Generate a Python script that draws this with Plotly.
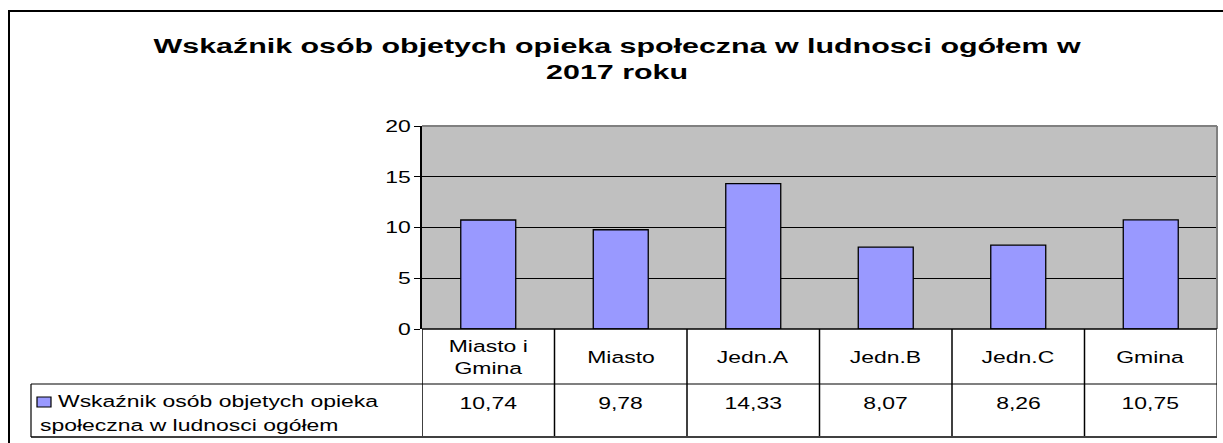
import plotly.graph_objects as go

categories = ["Miasto i<br>Gmina", "Miasto", "Jedn.A", "Jedn.B", "Jedn.C", "Gmina"]
values = [10.74, 9.78, 14.33, 8.07, 8.26, 10.75]
series_name_lines = ["Wskaźnik osób objetych opieka", "społeczna w ludnosci ogółem"]
title_lines = ["Wskaźnik osób objetych opieka społeczna w ludnosci ogółem w", "2017 roku"]
y_ticks = [0, 5, 10, 15, 20]

W, H = 1223, 443
FONT = "Liberation Sans, Arial, sans-serif"
BODY = 17
TITLE = 20


def px(x):
    return x / W


def py(y):
    return 1 - y / H


x_idx = list(range(len(categories)))

fig = go.Figure()
fig.add_trace(go.Bar(
    x=x_idx, y=values,
    marker=dict(color="#9999FF", line=dict(color="black", width=1.3)),
    showlegend=False, hoverinfo="skip",
))

plot_left, plot_right, plot_top, plot_bottom = 422, 1217, 126, 329
row_mid, table_bottom = 384, 437

fig.update_layout(
    template="none",
    width=W, height=H, autosize=False,
    margin=dict(l=0, r=0, t=0, b=0, pad=0, autoexpand=False),
    paper_bgcolor="white",
    plot_bgcolor="#C0C0C0",
    bargap=0.585,
    showlegend=False,
    xaxis=dict(
        domain=[px(plot_left), px(plot_right)],
        range=[-0.5, len(categories) - 0.5],
        showticklabels=False, showgrid=False, zeroline=False,
        showline=False, ticks="", automargin=False,
    ),
    yaxis=dict(
        domain=[py(plot_bottom), py(plot_top)],
        range=[0, 20], tickvals=y_ticks,
        ticktext=[str(v) for v in y_ticks],
        showgrid=True, gridcolor="#000000", gridwidth=1,
        zeroline=False, showline=True, linecolor="black", linewidth=1.5,
        ticks="outside", ticklen=6, tickcolor="black", tickwidth=1.2,
        tickfont=dict(family=FONT, size=BODY, color="black"),
        automargin=False,
    ),
    font=dict(family=FONT, color="black"),
)

shapes = []
# outer chart border
shapes.append(dict(type="rect", xref="paper", yref="paper",
                   x0=px(9), x1=px(1240), y0=py(460), y1=py(11),
                   line=dict(color="black", width=2), layer="below"))
# plot area top & right border (gray)
shapes.append(dict(type="line", xref="paper", yref="paper",
                   x0=px(plot_left), x1=px(plot_right), y0=py(plot_top), y1=py(plot_top),
                   line=dict(color="#808080", width=2)))
shapes.append(dict(type="line", xref="paper", yref="paper",
                   x0=px(plot_right), x1=px(plot_right), y0=py(plot_top), y1=py(plot_bottom),
                   line=dict(color="#808080", width=2)))
# x axis line at 0
shapes.append(dict(type="line", xref="paper", yref="paper",
                   x0=px(plot_left), x1=px(plot_right), y0=py(plot_bottom), y1=py(plot_bottom),
                   line=dict(color="black", width=1.5)))
# table verticals at category boundaries
for i in range(len(categories) + 1):
    shapes.append(dict(type="line", xref="x", yref="paper",
                       x0=i - 0.5, x1=i - 0.5, y0=py(table_bottom), y1=py(plot_bottom),
                       line=dict(color="black" if i < len(categories) else "#404040", width=1.5)))
# table horizontals
shapes.append(dict(type="line", xref="paper", yref="paper",
                   x0=px(31), x1=px(plot_right), y0=py(row_mid), y1=py(row_mid),
                   line=dict(color="black", width=1.2)))
shapes.append(dict(type="line", xref="paper", yref="paper",
                   x0=px(31), x1=px(plot_right), y0=py(table_bottom), y1=py(table_bottom),
                   line=dict(color="#404040", width=2)))
shapes.append(dict(type="line", xref="paper", yref="paper",
                   x0=px(31), x1=px(31), y0=py(table_bottom), y1=py(row_mid),
                   line=dict(color="black", width=1.2)))
# legend key
shapes.append(dict(type="rect", xref="paper", yref="paper",
                   x0=px(37), x1=px(51), y0=py(407), y1=py(397),
                   fillcolor="#9999FF", line=dict(color="black", width=1.2)))
fig.update_layout(shapes=shapes)

ann = []
ann.append(dict(text="<b>" + "<br>".join(title_lines) + "</b>", xref="paper", yref="paper",
                x=px(617), y=py(59), xanchor="center", yanchor="middle",
                showarrow=False, font=dict(family=FONT, size=TITLE, color="black")))
for i, c in enumerate(categories):
    ann.append(dict(text=c, xref="x", yref="paper", x=i, y=py(357),
                    xanchor="center", yanchor="middle", showarrow=False,
                    font=dict(family=FONT, size=BODY, color="black")))
    ann.append(dict(text=f"{values[i]:.2f}".replace(".", ","), xref="x", yref="paper",
                    x=i, y=py(403), xanchor="center", yanchor="middle", showarrow=False,
                    font=dict(family=FONT, size=BODY, color="black")))
ann.append(dict(text=series_name_lines[0], xref="paper", yref="paper",
                x=px(56), y=py(401), xanchor="left", yanchor="middle", align="left",
                showarrow=False, font=dict(family=FONT, size=BODY, color="black")))
ann.append(dict(text=series_name_lines[1], xref="paper", yref="paper",
                x=px(38), y=py(425), xanchor="left", yanchor="middle", align="left",
                showarrow=False, font=dict(family=FONT, size=BODY, color="black")))
fig.update_layout(annotations=ann)

# Excel export in the reference has horizontally stretched glyphs; mimic that.
post = """
document.body.style.margin = '0';
document.body.style.overflow = 'hidden';
var gd = document.getElementById('{plot_id}');
gd.querySelectorAll('text').forEach(function(t){
  var fs = parseFloat(window.getComputedStyle(t).fontSize);
  var sx = fs >= 19 ? 1.52 : 1.35;
  var x = parseFloat(t.getAttribute('x') || '0');
  var tr = t.getAttribute('transform') || '';
  t.setAttribute('transform', tr + ' translate(' + x + ',0) scale(' + sx + ',1) translate(' + (-x) + ',0)');
});
"""

fig.write_html("out.html", post_script=post, config={"displayModeBar": False})
